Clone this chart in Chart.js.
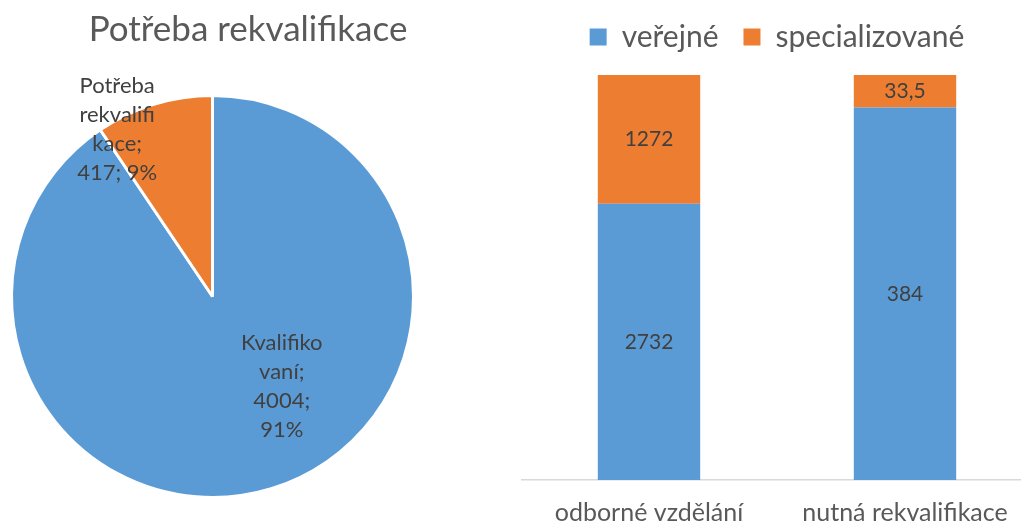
<!DOCTYPE html>
<html lang="cs">
<head>
  <meta charset="UTF-8" />
  <title>Potřeba rekvalifikace</title>
  <script src="https://cdn.jsdelivr.net/npm/chart.js"></script>
  <style>
    html, body {
      margin: 0;
      padding: 0;
      background: #fff;
      overflow: hidden;
      width: 1021px;
      height: 524px;
    }
    #pieWrap { position: absolute; left: 0; top: 0; width: 496px; height: 524px; }
    #barWrap { position: absolute; left: 521px; top: 0; width: 512px; height: 547px; }
  </style>
</head>
<body>
  <div id="pieWrap"><canvas id="pieChart" width="496" height="524"></canvas></div>
  <div id="barWrap"><canvas id="barChart" width="512" height="547"></canvas></div>

  <script>
    // data
    const pieTitle = "Potřeba rekvalifikace";
    const pieLabels = ["Kvalifikovaní", "Potřeba rekvalifikace"];
    const pieValues = [4004, 417];

    const barCategories = ["odborné vzdělání", "nutná rekvalifikace"];
    const seriesNames = ["veřejné", "specializované"];
    const verejne = [2732, 384];
    const specializovane = [1272, 33.5];

    const BLUE = "#5B9BD5", ORANGE = "#ED7D31";
    const FONT = 'Lato, "Open Sans", sans-serif';
    Chart.defaults.font.family = FONT;
    Chart.defaults.animation = false;

    // break text into lines no wider than maxWidth (words split if needed)
    function wrap(ctx, text, maxWidth) {
      const lines = [];
      let cur = "";
      text.split(" ").forEach(word => {
        const tryLine = cur ? cur + " " + word : word;
        if (ctx.measureText(tryLine).width <= maxWidth) { cur = tryLine; return; }
        if (cur) lines.push(cur);
        cur = "";
        for (const ch of word) {
          if (cur && ctx.measureText(cur + ch).width > maxWidth) { lines.push(cur); cur = ""; }
          cur += ch;
        }
      });
      if (cur) lines.push(cur);
      return lines;
    }

    const titlePlugin = {
      id: "pieTitle",
      afterDraw(chart) {
        const ctx = chart.ctx;
        ctx.save();
        ctx.font = "35px " + FONT;
        ctx.fillStyle = "#595959";
        ctx.textAlign = "center";
        ctx.textBaseline = "middle";
        ctx.fillText(pieTitle, chart.width / 2, 30);
        ctx.restore();
      }
    };

    const sliceLabels = {
      id: "sliceLabels",
      afterDatasetsDraw(chart, args, opts) {
        const ctx = chart.ctx;
        const data = chart.data.datasets[0].data;
        const total = data.reduce((a, b) => a + b, 0);
        ctx.save();
        ctx.font = "22px " + FONT;
        ctx.fillStyle = "#404040";
        ctx.textAlign = "center";
        ctx.textBaseline = "middle";
        chart.getDatasetMeta(0).data.forEach((arc, i) => {
          const txt = chart.data.labels[i] + "; " + data[i] + "; " + Math.round(data[i] / total * 100) + "%";
          const lines = wrap(ctx, txt, opts.maxWidth);
          const p = opts.place[i];
          const a = (arc.startAngle + arc.endAngle) / 2 + p.turn * Math.PI / 180;
          const cx = arc.x + Math.cos(a) * arc.outerRadius * p.dist;
          const cy = arc.y + Math.sin(a) * arc.outerRadius * p.dist;
          lines.forEach((ln, k) => {
            ctx.fillText(ln, cx, cy + (k - (lines.length - 1) / 2) * opts.lineHeight);
          });
        });
        ctx.restore();
      }
    };

    new Chart(document.getElementById("pieChart"), {
      type: "pie",
      data: {
        labels: pieLabels,
        datasets: [{
          data: pieValues,
          backgroundColor: [BLUE, ORANGE],
          borderColor: "#fff",
          borderWidth: 3,
          hoverOffset: 0
        }]
      },
      options: {
        responsive: false,
        layout: { padding: { left: 10, right: 81, top: 94, bottom: 25 } },
        plugins: {
          legend: { display: false },
          tooltip: { enabled: false },
          sliceLabels: {
            maxWidth: 85,
            lineHeight: 29,
            place: [{ dist: 0.565, turn: -20.6 }, { dist: 0.958, turn: -12.7 }]
          }
        }
      },
      plugins: [titlePlugin, sliceLabels]
    });

    // stacked 100 % bars
    const totals = verejne.map((v, i) => v + specializovane[i]);

    const barValues = {
      id: "barValues",
      afterDatasetsDraw(chart) {
        const ctx = chart.ctx;
        ctx.save();
        ctx.font = "21px " + FONT;
        ctx.fillStyle = "#404040";
        ctx.textAlign = "center";
        ctx.textBaseline = "middle";
        chart.data.datasets.forEach((ds, di) => {
          chart.getDatasetMeta(di).data.forEach((bar, i) => {
            ctx.fillText(String(ds.rawValues[i]).replace(".", ","), bar.x, (bar.y + bar.base) / 2);
          });
        });
        ctx.restore();
      }
    };

    // extra room under the legend
    const legendGap = {
      id: "legendGap",
      beforeInit(chart) {
        const fit = chart.legend.fit;
        chart.legend.fit = function () {
          fit.call(this);
          this.height += 13;
        };
      }
    };

    new Chart(document.getElementById("barChart"), {
      type: "bar",
      data: {
        labels: barCategories,
        datasets: [
          {
            label: seriesNames[0],
            rawValues: verejne,
            data: verejne.map((v, i) => v / totals[i] * 100),
            backgroundColor: BLUE,
            barPercentage: 0.4,
            categoryPercentage: 1
          },
          {
            label: seriesNames[1],
            rawValues: specializovane,
            data: specializovane.map((v, i) => v / totals[i] * 100),
            backgroundColor: ORANGE,
            barPercentage: 0.4,
            categoryPercentage: 1
          }
        ]
      },
      options: {
        responsive: false,
        layout: { padding: { top: -3, bottom: 2 } },
        scales: {
          x: {
            stacked: true,
            grid: { display: false, drawTicks: false },
            border: { color: "#D9D9D9", width: 1.5 },
            ticks: { color: "#595959", font: { size: 25, lineHeight: 1 }, padding: 20 }
          },
          y: { stacked: true, display: false, min: 0, max: 100 }
        },
        plugins: {
          tooltip: { enabled: false },
          legend: {
            position: "top",
            labels: {
              color: "#595959",
              font: { size: 30 },
              boxWidth: 17,
              boxHeight: 17,
              padding: 25
            }
          }
        }
      },
      plugins: [barValues, legendGap]
    });
  </script>
</body>
</html>
